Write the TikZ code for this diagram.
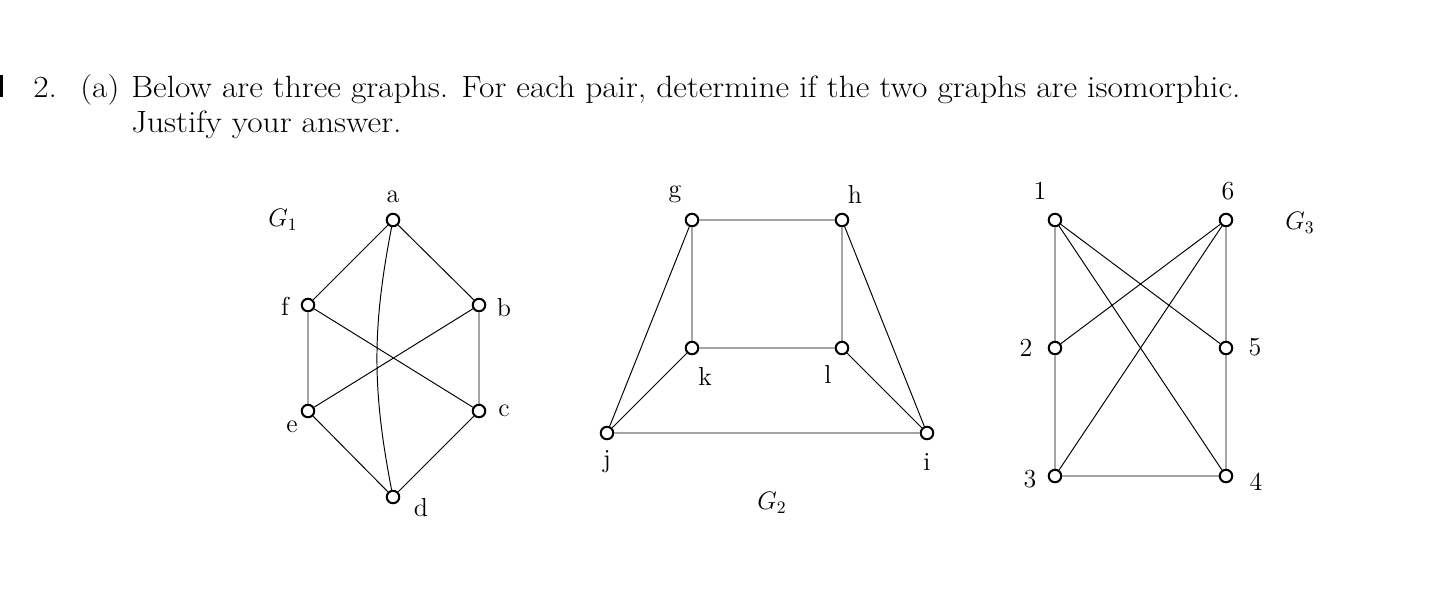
\documentclass[tikz,border=0pt]{standalone}
\usepackage{graphicx}
\begin{document}
\begin{tikzpicture}[x=0.02cm,y=-0.02cm,
  vtx/.style={circle,draw,line width=1.15pt,fill=white,minimum size=0.25cm,inner sep=0pt},
  edge/.style={line width=0.55pt},
  lbl/.style={font=\fontsize{14.8}{16}\selectfont,inner sep=0pt},
  txt/.style={font=\fontsize{17.5}{20}\selectfont,inner sep=0pt,anchor=base west}]
\useasboundingbox (0,0) rectangle (1448,610);
% header
\fill (0,75) rectangle (3,97);
\node[txt] (num) at (33,97) {\scalebox{1.088}[1]{2.}};
\node[txt] (part) at (80,97) {\scalebox{1.088}[1]{(a)}};
\node[txt] (line1) at (131,97) {\scalebox{1.088}[1]{Below are three graphs. For each pair, determine if the two graphs are isomorphic.}};
\node[txt] (line2) at (131,132) {\scalebox{1.088}[1]{Justify your answer.}};
% G1
\node[vtx] (a) at (393,220) {};
\node[vtx] (f) at (308,305) {};
\node[vtx] (b) at (479,305) {};
\node[vtx] (e) at (308,411) {};
\node[vtx] (c) at (479,411) {};
\node[vtx] (d) at (393,497) {};
\draw[edge] (a) -- (f) (a) -- (b) (f) -- (e) (b) -- (c) (e) -- (d) (c) -- (d) (f) -- (c) (b) -- (e);
\draw[edge] (a) to[bend right=11] (d);
\node[lbl] (la) at (393,197) {a};
\node[lbl] (lf) at (285,306) {f};
\node[lbl] (lb) at (504,308) {b};
\node[lbl] (le) at (292,427) {e};
\node[lbl] (lc) at (504,411) {c};
\node[lbl] (ld) at (421,508) {d};
\node[lbl] (G1) at (283,220) {$G_1$};
% G2
\node[vtx] (g) at (692,220) {};
\node[vtx] (h) at (842,220) {};
\node[vtx] (k) at (692,348) {};
\node[vtx] (l) at (842,348) {};
\node[vtx] (j) at (607,433) {};
\node[vtx] (i) at (927,433) {};
\draw[edge] (g) -- (h) (g) -- (k) (h) -- (l) (k) -- (l) (j) -- (g) (j) -- (k) (j) -- (i) (i) -- (h) (i) -- (l);
\node[lbl] (lg) at (675,194) {g};
\node[lbl] (lh) at (855,194) {h};
\node[lbl] (lk) at (705,376) {k};
\node[lbl] (ll) at (828,374) {l};
\node[lbl] (lj) at (607,462) {j};
\node[lbl] (li) at (927,462) {i};
\node[lbl] (G2) at (772,503) {$G_2$};
% G3
\node[vtx] (v1) at (1055,220) {};
\node[vtx] (v6) at (1226,220) {};
\node[vtx] (v2) at (1055,348) {};
\node[vtx] (v5) at (1226,348) {};
\node[vtx] (v3) at (1055,476) {};
\node[vtx] (v4) at (1226,476) {};
\draw[edge] (v1) -- (v2) (v2) -- (v3) (v3) -- (v4) (v4) -- (v5) (v5) -- (v6) (v1) -- (v5) (v1) -- (v4) (v6) -- (v2) (v6) -- (v3);
\node[lbl] (l1) at (1040,191) {1};
\node[lbl] (l6) at (1228,191) {6};
\node[lbl] (l2) at (1026,348) {2};
\node[lbl] (l5) at (1255,347) {5};
\node[lbl] (l3) at (1030,479) {3};
\node[lbl] (l4) at (1256,482) {4};
\node[lbl] (G3) at (1300,223) {$G_3$};
\end{tikzpicture}
\end{document}
